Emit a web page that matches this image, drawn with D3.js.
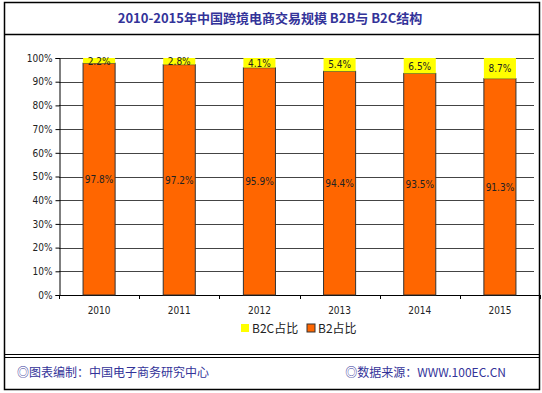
<!DOCTYPE html>
<html>
<head>
<meta charset="utf-8">
<script src="https://cdn.jsdelivr.net/npm/d3@7"></script>
<style>
  body { margin: 0; background: #fff; }
  svg text { font-family: "Liberation Mono", "Noto Sans CJK SC", monospace; }
</style>
</head>
<body>
<svg id="chart" width="542" height="393"></svg>
<script>
const years = ['2010', '2011', '2012', '2013', '2014', '2015'];
const b2b = [97.8, 97.2, 95.9, 94.4, 93.5, 91.3];
const b2c = [2.2, 2.8, 4.1, 5.4, 6.5, 8.7];
const yTicks = [0, 10, 20, 30, 40, 50, 60, 70, 80, 90, 100];
const titleText = '2010-2015年中国跨境电商交易规模 B2B与 B2C结构';
const footLeft = '◎图表编制：中国电子商务研究中心';
const footRight = '◎数据来源：WWW.100EC.CN';

const svg = d3.select('#chart');
const navy = '#333399';

// frame
svg.append('rect').attr('x', 4.5).attr('y', 2.5).attr('width', 535).attr('height', 387)
  .attr('fill', 'none').attr('stroke', '#000').attr('stroke-width', 1.5);
svg.append('line').attr('x1', 4).attr('x2', 540).attr('y1', 34.5).attr('y2', 34.5)
  .attr('stroke', '#000').attr('stroke-width', 1.5);
svg.append('line').attr('x1', 4).attr('x2', 540).attr('y1', 354.5).attr('y2', 354.5)
  .attr('stroke', '#000');
svg.append('line').attr('x1', 4).attr('x2', 540).attr('y1', 357.5).attr('y2', 357.5)
  .attr('stroke', '#000');

svg.append('text').attr('x', 270).attr('y', 23).attr('text-anchor', 'middle')
  .style('font-family', '"Noto Sans CJK SC", sans-serif')
  .attr('font-size', 13).attr('font-weight', 'bold').attr('fill', navy).text(titleText);

svg.append('text').attr('x', 17).attr('y', 377)
  .style('font-family', '"Noto Sans CJK SC", sans-serif')
  .attr('font-size', 12).attr('fill', navy).text(footLeft);
svg.append('text').attr('x', 506).attr('y', 377).attr('text-anchor', 'end')
  .style('font-family', '"Noto Sans CJK SC", sans-serif')
  .attr('font-size', 12).attr('fill', navy).text(footRight);

// plot
const x = d3.scaleBand().domain(years).range([59, 540]).paddingInner(0.6).paddingOuter(0.3);
const y = d3.scaleLinear().domain([0, 100]).range([295, 58]);

svg.append('g').selectAll('line').data(yTicks.slice(1)).enter().append('line')
  .attr('x1', 59).attr('x2', 534)
  .attr('y1', d => Math.round(y(d)) + 0.5).attr('y2', d => Math.round(y(d)) + 0.5)
  .attr('stroke', '#444');

const yAxis = svg.append('g').attr('transform', 'translate(59.5,0)')
  .call(d3.axisLeft(y).tickValues(yTicks).tickSize(4).tickFormat(d => d + '%'));
yAxis.select('.domain').attr('stroke', '#000');
yAxis.selectAll('text').attr('font-size', 10).attr('fill', '#222')
  .style('font-family', '"DejaVu Sans Condensed", sans-serif');

const band = d3.scaleLinear().domain([0, years.length]).range([59, 540]);
const xg = svg.append('g');
xg.append('line').attr('x1', 59).attr('x2', 540).attr('y1', 295.5).attr('y2', 295.5).attr('stroke', '#000');
xg.selectAll('.tk').data(d3.range(years.length + 1)).enter().append('line')
  .attr('x1', d => Math.round(band(d)) + 0.5).attr('x2', d => Math.round(band(d)) + 0.5)
  .attr('y1', 295).attr('y2', 299).attr('stroke', '#000');
xg.selectAll('.yl').data(years).enter().append('text')
  .attr('x', d => x(d) + x.bandwidth() / 2).attr('y', 314).attr('text-anchor', 'middle')
  .style('font-family', '"DejaVu Sans Condensed", sans-serif')
  .attr('font-size', 10).attr('fill', '#222').text(d => d);

const rows = years.map((yr, i) => ({ yr, b2b: b2b[i], b2c: b2c[i] }));
const bars = svg.append('g').selectAll('g').data(rows).enter().append('g');
bars.append('rect')
  .attr('x', d => x(d.yr)).attr('width', x.bandwidth())
  .attr('y', d => y(d.b2b)).attr('height', d => y(0) - y(d.b2b))
  .attr('fill', '#FF6600').attr('stroke', '#333').attr('stroke-width', 1);
bars.append('rect')
  .attr('x', d => x(d.yr)).attr('width', x.bandwidth())
  .attr('y', d => y(100)).attr('height', d => y(d.b2b) - y(100))
  .attr('fill', '#FFFF00');
bars.append('text')
  .attr('x', d => x(d.yr) + x.bandwidth() / 2).attr('y', d => y(d.b2b / 2) + 4)
  .attr('text-anchor', 'middle').attr('font-size', 10).attr('fill', '#222')
  .style('font-family', '"DejaVu Sans Condensed", sans-serif')
  .text(d => d.b2b + '%');
bars.append('text')
  .attr('x', d => x(d.yr) + x.bandwidth() / 2).attr('y', d => y(100 - d.b2c / 2) + 4)
  .attr('text-anchor', 'middle').attr('font-size', 10).attr('fill', '#222')
  .style('font-family', '"DejaVu Sans Condensed", sans-serif')
  .text(d => d.b2c + '%');

// legend
const legend = [{ name: 'B2C占比', color: '#FFFF00', stroke: 'none', x: 241 },
                { name: 'B2占比', color: '#FF6600', stroke: '#333', x: 307 }];
const lg = svg.append('g').selectAll('g').data(legend).enter().append('g');
lg.append('rect').attr('x', d => d.x).attr('y', 324).attr('width', 8).attr('height', 8)
  .attr('fill', d => d.color).attr('stroke', d => d.stroke);
lg.append('text').attr('x', d => d.x + 11).attr('y', 333)
  .style('font-family', '"Noto Sans CJK SC", sans-serif')
  .attr('font-size', 12).attr('fill', '#222').text(d => d.name);
</script>
</body>
</html>
